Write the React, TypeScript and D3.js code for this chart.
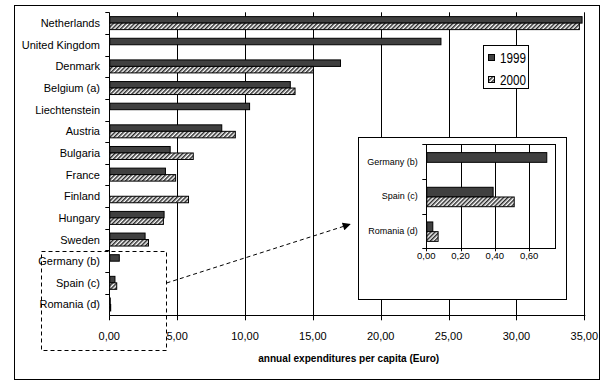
import React from "react";
import * as d3 from "d3";

const categories = ["Netherlands", "United Kingdom", "Denmark", "Belgium (a)", "Liechtenstein", "Austria", "Bulgaria", "France", "Finland", "Hungary", "Sweden", "Germany (b)", "Spain (c)", "Romania (d)"];
const values1999: (number | null)[] = [34.8, 24.4, 17.0, 13.3, 10.3, 8.25, 4.45, 4.1, null, 4.0, 2.6, 0.7, 0.38, 0.035];
const values2000: (number | null)[] = [34.6, null, 15.0, 13.65, null, 9.25, 6.15, 4.85, 5.8, 3.95, 2.85, null, 0.51, 0.066];
const xTicks = [0, 5, 10, 15, 20, 25, 30, 35];
const insetCategories = ["Germany (b)", "Spain (c)", "Romania (d)"];
const inset1999: (number | null)[] = [0.7, 0.387, 0.035];
const inset2000: (number | null)[] = [null, 0.51, 0.066];
const insetTicks = [0, 0.2, 0.4, 0.6];
const seriesNames = ["1999", "2000"];
const xTitle = "annual expenditures per capita (Euro)";

const fmt = (v: number) => v.toFixed(2).replace(".", ",");
const FONT = "'Liberation Sans', Arial, sans-serif";
const DARK = "#404040";

export default function App() {
  const x = d3.scaleLinear().domain([0, 35]).range([109.3, 584.3]);
  const y = d3.scaleBand<string>().domain(categories).range([12.3, 315.3]).padding(0);
  const bw = y.bandwidth();

  const ix = d3.scaleLinear().domain([0, 0.755]).range([426.3, 555.7]);
  const iy = d3.scaleBand<string>().domain(insetCategories).range([144.3, 248.3]).padding(0);
  const ibw = iy.bandwidth();

  const x0 = x(0);
  const axisY = y.range()[1];
  const ix0 = ix(0);
  const iAxisY = iy.range()[1];

  return (
    <svg width={616} height={385} style={{ position: "absolute", left: 0, top: 0, background: "#fff" }} fontFamily={FONT}>
      <defs>
        <pattern id="hatch" patternUnits="userSpaceOnUse" width={3} height={3} patternTransform="rotate(45)">
          <rect width={3} height={3} fill="#fff" />
          <rect width={1.5} height={3} fill="#2a2a2a" />
        </pattern>
        <marker id="arrow" viewBox="0 0 10 10" refX={9} refY={5} markerWidth={9} markerHeight={8} markerUnits="userSpaceOnUse" orient="auto">
          <path d="M0,0 L10,5 L0,10 z" fill="#000" />
        </marker>
      </defs>
      <rect x={14.5} y={5.5} width={585} height={374} fill="#fff" stroke="#000" strokeWidth={1} />

      {/* gridlines */}
      {xTicks.filter((t) => t > 0).map((t) => (
        <line key={"g" + t} x1={Math.round(x(t)) + 0.5} x2={Math.round(x(t)) + 0.5} y1={y.range()[0]} y2={axisY} stroke="#000" />
      ))}
      {/* x ticks */}
      {xTicks.map((t) => (
        <g key={"t" + t}>
          <line x1={Math.round(x(t)) + 0.5} x2={Math.round(x(t)) + 0.5} y1={axisY} y2={axisY + 5} stroke="#000" />
          <text x={x(t)} y={335.5} textAnchor="middle" dominantBaseline="central" fontSize={11}>{fmt(t)}</text>
        </g>
      ))}
      {/* axes */}
      <line x1={Math.round(x0) + 0.5} x2={Math.round(x0) + 0.5} y1={y.range()[0]} y2={axisY} stroke="#000" />
      <line x1={x0} x2={x(35) + 1} y1={Math.round(axisY) + 0.5} y2={Math.round(axisY) + 0.5} stroke="#000" />
      {categories.map((c, i) => (
        <line key={"yt" + i} x1={x0 - 4} x2={x0} y1={Math.round(y(c)!) + 0.5} y2={Math.round(y(c)!) + 0.5} stroke="#000" />
      ))}
      {/* bars */}
      {categories.map((c, i) => {
        const top = y(c)! + bw * 0.2;
        const h = bw * 0.3;
        return (
          <g key={"b" + i}>
            {values1999[i] != null && (
              <rect x={x0 + 0.5} y={top} width={x(values1999[i]!) - x0} height={h} fill={DARK} stroke="#000" strokeWidth={1} />
            )}
            {values2000[i] != null && (
              <rect x={x0 + 0.5} y={top + h} width={x(values2000[i]!) - x0} height={h} fill="url(#hatch)" stroke="#000" strokeWidth={1} />
            )}
            <text x={100} y={y(c)! + bw / 2} textAnchor="end" dominantBaseline="central" fontSize={11}>{c}</text>
          </g>
        );
      })}
      <text x={348.7} y={357.5} textAnchor="middle" dominantBaseline="central" fontSize={11} fontWeight="bold" textLength={181} lengthAdjust="spacingAndGlyphs">{xTitle}</text>

      {/* legend */}
      <rect x={483.5} y={45.5} width={45} height={43} fill="#fff" stroke="#000" />
      {seriesNames.map((s, i) => (
        <g key={"l" + i}>
          <rect x={488.5} y={54.5 + i * 22} width={6} height={6} fill={i === 0 ? DARK : "url(#hatch)"} stroke="#000" />
          <text x={500} y={57.8 + i * 22} dominantBaseline="central" fontSize={14} textLength={26} lengthAdjust="spacingAndGlyphs">{s}</text>
        </g>
      ))}

      {/* selection box and arrow */}
      <rect x={41.5} y={251.5} width={125} height={99} fill="none" stroke="#000" strokeDasharray="4,3" />
      <line x1={166.5} y1={283} x2={350} y2={224.3} stroke="#000" strokeDasharray="4,3" markerEnd="url(#arrow)" />

      {/* inset */}
      <rect x={358.5} y={137.5} width={208} height={162} fill="#fff" stroke="#000" />
      <rect x={Math.round(ix0) + 0.5} y={Math.round(iy.range()[0]) + 0.5} width={Math.round(ix.range()[1] - ix0)} height={Math.round(iAxisY - iy.range()[0])} fill="none" stroke="#000" />
      {insetTicks.map((t) => (
        <g key={"it" + t}>
          <line x1={Math.round(ix(t)) + 0.5} x2={Math.round(ix(t)) + 0.5} y1={t > 0 ? iy.range()[0] : iAxisY} y2={iAxisY + 3} stroke="#000" />
          <text x={ix(t)} y={255.7} textAnchor="middle" dominantBaseline="central" fontSize={9.5}>{fmt(t)}</text>
        </g>
      ))}
      {insetCategories.concat([""]).map((c, i) => {
        const yy = Math.round(iy.range()[0] + i * ibw) + 0.5;
        return <line key={"iyt" + i} x1={ix0 - 4} x2={ix0} y1={yy} y2={yy} stroke="#000" />;
      })}
      {insetCategories.map((c, i) => {
        const top = iy(c)! + ibw * 0.24;
        const h = ibw * 0.28;
        return (
          <g key={"ib" + i}>
            {inset1999[i] != null && (
              <rect x={ix0 + 0.5} y={top} width={ix(inset1999[i]!) - ix0} height={h} fill={DARK} stroke="#000" />
            )}
            {inset2000[i] != null && (
              <rect x={ix0 + 0.5} y={top + h} width={ix(inset2000[i]!) - ix0} height={h} fill="url(#hatch)" stroke="#000" />
            )}
            <text x={417.7} y={iy(c)! + ibw / 2} textAnchor="end" dominantBaseline="central" fontSize={9}>{c}</text>
          </g>
        );
      })}
    </svg>
  );
}
